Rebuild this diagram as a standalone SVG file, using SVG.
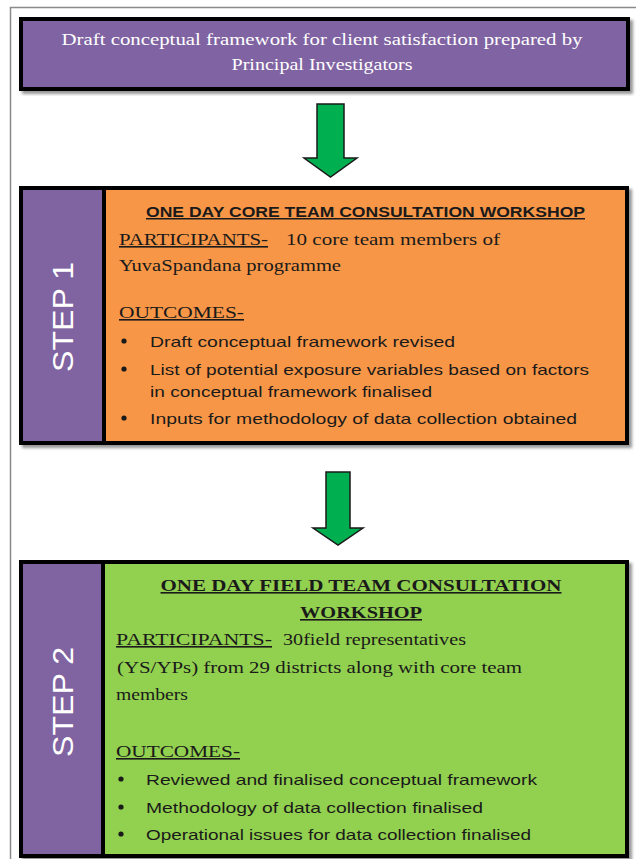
<svg xmlns="http://www.w3.org/2000/svg" width="636" height="859" viewBox="0 0 636 859">
<defs>
<filter id="sh" x="-5%" y="-5%" width="110%" height="115%">
<feDropShadow dx="3" dy="3" stdDeviation="1.5" flood-color="#404040" flood-opacity="0.55"/>
</filter>
<marker id="none" markerWidth="1" markerHeight="1"/>
</defs>
<style>
.frame{fill:none;stroke:#8a8a8a;stroke-width:1.5}
.box{stroke:#000;stroke-width:4}
.purple{fill:#8064A2}
.orange{fill:#F79646}
.green{fill:#92D050}
.arrow{fill:#00B050;stroke:#1a1a1a;stroke-width:1.5;stroke-linejoin:miter}
.serif{font-family:"Liberation Serif","Times New Roman",serif;font-size:16px;fill:#1a1a1a}
.sans{font-family:"Liberation Sans",Arial,sans-serif;font-size:15px;fill:#1a1a1a}
.white{fill:#ffffff}
.step{font-family:"Liberation Sans",Arial,sans-serif;font-size:30px;fill:#ffffff}
.u{text-decoration:underline}
.b{font-weight:bold}
.dot{fill:#1a1a1a}
</style>
<rect class="frame" x="10.5" y="7.5" width="640" height="870"/>

<g id="top">
<rect class="box purple" x="21" y="19" width="607" height="70" filter="url(#sh)"/>
<text class="serif white" x="322" y="45" text-anchor="middle" textLength="521" lengthAdjust="spacingAndGlyphs">Draft conceptual  framework  for client satisfaction prepared  by</text>
<text class="serif white" x="322" y="70" text-anchor="middle" textLength="181" lengthAdjust="spacingAndGlyphs">Principal Investigators</text>
</g>

<g id="step1">
<rect class="box orange" x="21" y="188" width="606" height="255" filter="url(#sh)"/>
<rect class="box purple" x="21" y="188" width="83" height="255"/>
<text class="step" transform="translate(73,317) rotate(-90)" text-anchor="middle" textLength="110" lengthAdjust="spacingAndGlyphs">STEP 1</text>
<text class="sans b u" x="146" y="217" textLength="439" lengthAdjust="spacingAndGlyphs">ONE DAY CORE TEAM  CONSULTATION  WORKSHOP</text>
<text class="serif u" x="119" y="245" textLength="149" lengthAdjust="spacingAndGlyphs">PARTICIPANTS-</text>
<text class="serif" x="286" y="245" textLength="214" lengthAdjust="spacingAndGlyphs">10 core team members of</text>
<text class="serif" x="119" y="271" textLength="222" lengthAdjust="spacingAndGlyphs">YuvaSpandana  programme</text>
<text class="serif u" x="119" y="318" textLength="125" lengthAdjust="spacingAndGlyphs">OUTCOMES-</text>
<circle class="dot" cx="124" cy="341" r="2.6"/>
<text class="sans" x="150" y="347" textLength="305" lengthAdjust="spacingAndGlyphs">Draft conceptual  framework  revised</text>
<circle class="dot" cx="124" cy="369" r="2.6"/>
<text class="sans" x="150" y="375" textLength="439" lengthAdjust="spacingAndGlyphs">List of potential  exposure variables based on factors</text>
<text class="sans" x="150" y="397" textLength="282" lengthAdjust="spacingAndGlyphs">in conceptual  framework finalised</text>
<circle class="dot" cx="124" cy="418" r="2.6"/>
<text class="sans" x="150" y="424" textLength="427" lengthAdjust="spacingAndGlyphs">Inputs for methodology  of data collection  obtained</text>
</g>

<g id="step2">
<rect class="box green" x="21" y="562" width="606" height="294" filter="url(#sh)"/>
<rect class="box purple" x="21" y="562" width="82" height="294"/>
<text class="step" transform="translate(73,702) rotate(-90)" text-anchor="middle" textLength="110" lengthAdjust="spacingAndGlyphs">STEP 2</text>
<text class="serif b u" x="361" y="591" text-anchor="middle" font-size="18" textLength="401" lengthAdjust="spacingAndGlyphs">ONE DAY FIELD TEAM CONSULTATION</text>
<text class="serif b u" x="361" y="618" text-anchor="middle" font-size="18" textLength="122" lengthAdjust="spacingAndGlyphs">WORKSHOP</text>
<text class="serif u" x="116" y="645" textLength="156" lengthAdjust="spacingAndGlyphs">PARTICIPANTS-</text>
<text class="serif" x="283" y="645" textLength="183" lengthAdjust="spacingAndGlyphs">30field representatives</text>
<text class="serif" x="117" y="673" textLength="405" lengthAdjust="spacingAndGlyphs">(YS/YPs) from 29 districts along with core team</text>
<text class="serif" x="116" y="700" textLength="72" lengthAdjust="spacingAndGlyphs">members</text>
<text class="serif u" x="116" y="757" textLength="124" lengthAdjust="spacingAndGlyphs">OUTCOMES-</text>
<circle class="dot" cx="121" cy="779" r="2.6"/>
<text class="sans" x="146" y="785" textLength="391" lengthAdjust="spacingAndGlyphs">Reviewed and finalised  conceptual  framework</text>
<circle class="dot" cx="121" cy="807" r="2.6"/>
<text class="sans" x="146" y="813" textLength="337" lengthAdjust="spacingAndGlyphs">Methodology  of data collection  finalised</text>
<circle class="dot" cx="121" cy="834" r="2.6"/>
<text class="sans" x="146" y="840" textLength="385" lengthAdjust="spacingAndGlyphs">Operational issues for data collection  finalised</text>
</g>

<g id="connectors">
<polygon class="arrow" points="317,104 344,104 344,158 357,158 330.5,177 304,158 317,158"/>
<polygon class="arrow" points="326,472 350,472 350,528 363,528 338,545 313,528 326,528"/>
</g>
</svg>
